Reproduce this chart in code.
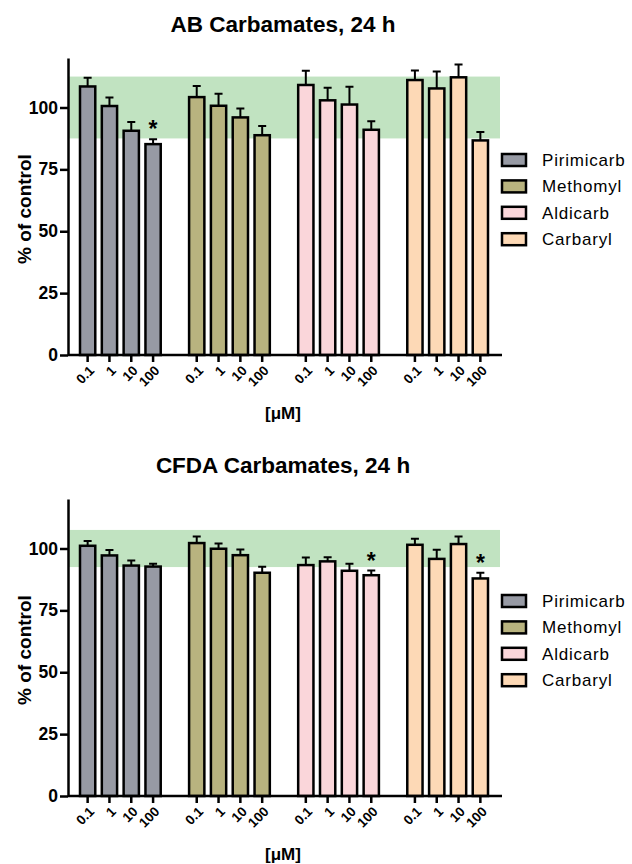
<!DOCTYPE html>
<html lang="en">
  <head>
    <meta charset="utf-8" />
    <title>Carbamates, 24 h</title>
    <script src="https://d3js.org/d3.v7.min.js"></script>
    <style type="text/css">
      body { margin: 0; background: #fff; }
      svg { font-family: 'Liberation Sans', Arial, sans-serif; }
      .axis path, .axis line { stroke: #000; stroke-width: 2.5px; }
      .axis text { font-weight: bold; fill: #000; }
    </style>
  </head>
  <body>
    <script type="text/javascript">
      // Chart data
      const compounds = ['Pirimicarb', 'Methomyl', 'Aldicarb', 'Carbaryl'];
      const doses = ['0.1', '1', '10', '100'];
      const fills = ['#979aa4', '#b8b37f', '#fad6da', '#fdd9b6'];
      const yTicks = [0, 25, 50, 75, 100];

      // AB assay, mean and SEM per compound (rows) per dose (cols)
      const abMean = [
        [108.5, 100.6, 90.6, 85.2],
        [104.2, 100.7, 96.0, 88.8],
        [109.1, 102.9, 101.2, 91.0],
        [111.1, 107.7, 112.2, 86.7]
      ];
      const abErr = [
        [3.5, 3.4, 3.5, 2.0],
        [4.5, 4.9, 3.6, 3.7],
        [5.7, 5.1, 7.2, 3.4],
        [3.8, 6.8, 5.2, 3.4]
      ];
      const abSig = [
        [false, false, false, true],
        [false, false, false, false],
        [false, false, false, false],
        [false, false, false, false]
      ];
      const abBand = [87.5, 112.5];

      // CFDA assay
      const cfdaMean = [
        [101.1, 97.2, 93.1, 92.7],
        [102.2, 99.9, 97.3, 90.2],
        [93.3, 94.8, 91.0, 89.2],
        [101.5, 95.8, 101.8, 87.9]
      ];
      const cfdaErr = [
        [1.9, 2.2, 2.1, 1.1],
        [2.6, 2.1, 2.3, 2.4],
        [3.1, 1.7, 2.8, 1.9],
        [2.4, 3.7, 3.0, 2.3]
      ];
      const cfdaSig = [
        [false, false, false, false],
        [false, false, false, false],
        [false, false, false, true],
        [false, false, false, true]
      ];
      const cfdaBand = [92.5, 107.5];

      const w = 632;
      const h = 864;

      const svg = d3
        .select('body')
        .append('svg')
        .attr('width', w)
        .attr('height', h);

      const drawPanel = (title, means, errs, sigs, band, top) => {
        const g = svg.append('g').attr('transform', `translate(0, ${top})`);
        const left = 68;
        const right = 500;
        const base = 355;

        const x0 = d3
          .scaleBand()
          .domain(compounds)
          .range([left, right])
          .paddingInner(0.14)
          .paddingOuter(0.05);
        const x1 = d3
          .scaleBand()
          .domain(doses)
          .range([0, x0.bandwidth()])
          .padding(0.3);
        const y = d3
          .scaleLinear()
          .domain([0, 120])
          .range([base, 58]);

        // normal range band
        g.append('rect')
          .attr('x', left)
          .attr('y', y(band[1]))
          .attr('width', right - left)
          .attr('height', y(band[0]) - y(band[1]))
          .attr('fill', '#c1e3c1');

        // title
        g.append('text')
          .attr('x', 283)
          .attr('y', 32)
          .attr('text-anchor', 'middle')
          .style('font-size', '22.5px')
          .style('font-weight', 'bold')
          .text(title);

        // bars
        compounds.forEach((c, ci) => {
          const grp = g.append('g').attr('transform', `translate(${x0(c)},0)`);
          const rows = doses.map((d, di) => ({
            dose: d,
            mean: means[ci][di],
            err: errs[ci][di],
            sig: sigs[ci][di]
          }));

          // error whiskers (upper only)
          grp
            .selectAll('.whisker')
            .data(rows)
            .enter()
            .append('path')
            .attr('class', 'whisker')
            .attr('fill', 'none')
            .attr('stroke', '#000')
            .attr('stroke-width', 2)
            .attr('d', d => {
              const cx = x1(d.dose) + x1.bandwidth() / 2;
              const yt = y(d.mean + d.err);
              return `M${cx},${y(d.mean)}V${yt}M${cx - 4},${yt}H${cx + 4}`;
            });

          grp
            .selectAll('rect')
            .data(rows)
            .enter()
            .append('rect')
            .attr('x', d => x1(d.dose))
            .attr('y', d => y(d.mean))
            .attr('width', x1.bandwidth())
            .attr('height', d => base - y(d.mean))
            .attr('fill', fills[ci])
            .attr('stroke', '#000')
            .attr('stroke-width', 2.5);

          grp
            .selectAll('.star')
            .data(rows.filter(d => d.sig))
            .enter()
            .append('text')
            .attr('class', 'star')
            .attr('x', d => x1(d.dose) + x1.bandwidth() / 2)
            .attr('y', d => y(d.mean + d.err) - 2)
            .attr('text-anchor', 'middle')
            .style('font-size', '23px')
            .style('font-weight', 'bold')
            .text('*');

          // x axis ticks for this group
          const xAxis = d3
            .axisBottom(x1)
            .tickSize(7)
            .tickSizeOuter(0);
          const ax = grp
            .append('g')
            .attr('class', 'axis')
            .attr('transform', `translate(0, ${base})`)
            .call(xAxis);
          ax.select('.domain').remove();
          ax.selectAll('line').attr('stroke-width', 2);
          ax.selectAll('text')
            .style('font-size', '13.5px')
            .attr('y', 0)
            .attr('x', 0)
            .attr('dy', '0.35em')
            .attr('transform', 'translate(4, 13) rotate(-45)')
            .style('text-anchor', 'end');
        });

        // x axis baseline
        g.append('line')
          .attr('x1', left)
          .attr('x2', right + 2)
          .attr('y1', base)
          .attr('y2', base)
          .attr('stroke', '#000')
          .attr('stroke-width', 2.5);

        // y axis
        const yAxis = d3
          .axisLeft(y)
          .tickValues(yTicks)
          .tickSize(8)
          .tickSizeOuter(0);
        const yg = g
          .append('g')
          .attr('class', 'axis')
          .attr('transform', `translate(${left},0)`)
          .call(yAxis);
        yg.selectAll('text').style('font-size', '17.5px').attr('x', -10);

        // axis names
        g.append('text')
          .attr('transform', 'rotate(-90)')
          .attr('x', -209)
          .attr('y', 31)
          .attr('text-anchor', 'middle')
          .style('font-size', '19px')
          .style('font-weight', 'bold')
          .text('% of control');

        g.append('text')
          .attr('x', 283)
          .attr('y', 419)
          .attr('text-anchor', 'middle')
          .style('font-size', '17px')
          .style('font-weight', 'bold')
          .text('[μM]');

        // legend
        const lg = g
          .selectAll('.legend')
          .data(compounds)
          .enter()
          .append('g')
          .attr('class', 'legend')
          .attr('transform', (d, i) => `translate(502, ${154 + i * 26.4})`);
        lg.append('rect')
          .attr('width', 24)
          .attr('height', 12)
          .attr('fill', (d, i) => fills[i])
          .attr('stroke', '#000')
          .attr('stroke-width', 2.5);
        lg.append('text')
          .attr('x', 40)
          .attr('y', 6)
          .attr('dy', '0.35em')
          .style('font-size', '17px')
          .style('letter-spacing', '0.8px')
          .text(d => d);
      };

      drawPanel('AB Carbamates, 24 h', abMean, abErr, abSig, abBand, 0);
      drawPanel('CFDA Carbamates, 24 h', cfdaMean, cfdaErr, cfdaSig, cfdaBand, 441);
    </script>
  </body>
</html>
